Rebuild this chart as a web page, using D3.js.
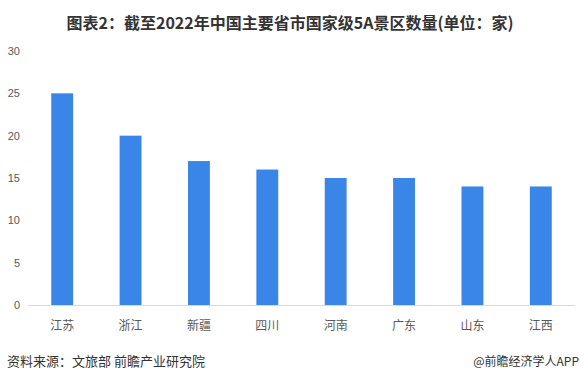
<!DOCTYPE html>
<html><head><meta charset="utf-8">
<script src="https://cdn.jsdelivr.net/npm/d3@7"></script>
<style>body{margin:0;background:#fff;font-family:"Noto Sans CJK SC","Noto Sans",sans-serif;}</style>
</head><body><svg id="c" width="580" height="382"></svg>
<script>
const categories = ["江苏","浙江","新疆","四川","河南","广东","山东","江西"];
const values = [25,20,17,16,15,15,14,14];
const yTicks = [0,5,10,15,20,25,30];

const svg = d3.select("#c");
const x = d3.scaleBand().domain(categories).range([28,575]).paddingInner(0.68).paddingOuter(0.34);
const y = d3.scaleLinear().domain([0,30]).range([305,51]);

svg.append("text").attr("x",290).attr("y",29).attr("text-anchor","middle")
  .attr("font-size",16).attr("font-weight","bold").attr("fill","#333")
  .text("图表2：截至2022年中国主要省市国家级5A景区数量(单位：家)");

svg.append("g").selectAll("text").data(yTicks).join("text")
  .attr("x",20).attr("y",d=>y(d)+4).attr("text-anchor","end")
  .attr("font-size",11).attr("fill","#595959").attr("font-family","Liberation Sans, Arial, sans-serif")
  .text(d=>d);

svg.append("g").selectAll("rect").data(values).join("rect")
  .attr("x",(d,i)=>x(categories[i])).attr("width",x.bandwidth())
  .attr("y",d=>y(d)).attr("height",d=>y(0)-y(d)).attr("fill","#3a86e8");

svg.append("line").attr("x1",28).attr("x2",575).attr("y1",305.5).attr("y2",305.5)
  .attr("stroke","#d9d9d9").attr("stroke-width",1);

svg.append("g").selectAll("text").data(categories).join("text")
  .attr("x",d=>x(d)+x.bandwidth()/2).attr("y",330).attr("text-anchor","middle")
  .attr("font-size",12).attr("fill","#595959").text(d=>d);

svg.append("text").attr("x",7).attr("y",366).attr("font-size",13).attr("fill","#333")
  .text("资料来源：文旅部 前瞻产业研究院");
svg.append("text").attr("x",579).attr("y",366).attr("text-anchor","end").attr("font-size",12).attr("fill","#333")
  .text("@前瞻经济学人APP");
</script></body></html>
